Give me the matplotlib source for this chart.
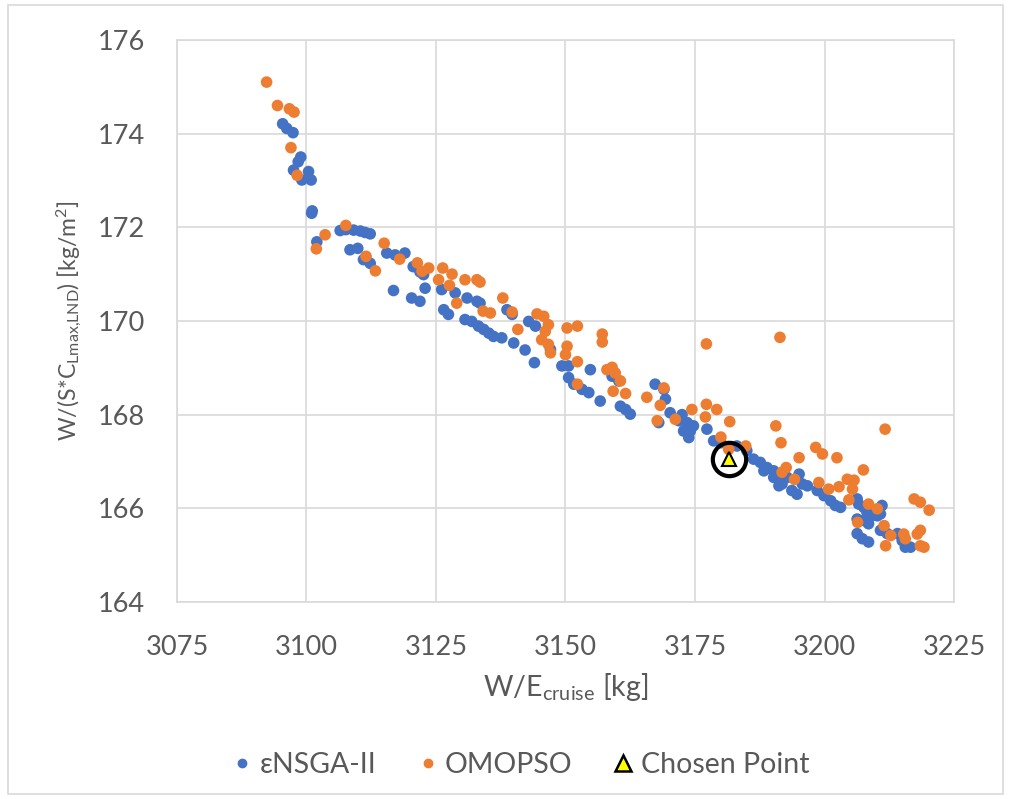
import matplotlib
matplotlib.use("Agg")
import matplotlib.pyplot as plt
from matplotlib.lines import Line2D
from matplotlib.patches import Rectangle

plt.rcParams["font.family"] = ["Lato", "DejaVu Sans"]
plt.rcParams["mathtext.default"] = "regular"

# εNSGA-II front
nsga_x = [3095.4, 3096.2, 3097.4, 3098.9, 3098.4, 3097.5, 3099.1, 3100.4, 3100.9, 3101.0,
          3101.1, 3102.0, 3106.5, 3107.6, 3109.1, 3110.4, 3111.3, 3112.3, 3108.4, 3109.9,
          3111.0, 3112.3, 3115.5, 3117.1, 3119.0, 3116.8, 3120.3, 3121.9, 3120.6, 3121.9,
          3122.6, 3122.9, 3126.1, 3128.7, 3126.5, 3127.4, 3131.0, 3132.9, 3133.5, 3130.6,
          3131.9, 3133.2, 3134.2, 3135.2, 3136.1, 3137.7, 3140.0, 3142.2, 3142.9, 3144.2,
          3138.7, 3139.7, 3144.0, 3147.1, 3149.3, 3150.6, 3154.8, 3150.6, 3151.6, 3153.2,
          3154.5, 3156.7, 3159.0, 3160.3, 3160.6, 3161.6, 3162.5, 3167.3, 3169.0, 3169.3,
          3170.2, 3171.9, 3168.0, 3172.5, 3173.5, 3174.1, 3172.8, 3174.7, 3177.3, 3173.8,
          3178.6, 3180.0, 3183.1, 3185.0, 3186.3, 3187.6, 3188.9, 3190.2, 3191.5, 3192.8,
          3188.3, 3190.2, 3191.8, 3193.7, 3194.7, 3191.2, 3195.7, 3196.7, 3195.1, 3198.6,
          3199.9, 3201.2, 3202.1, 3203.1, 3206.3, 3206.6, 3207.6, 3208.2, 3209.2, 3210.2,
          3211.1, 3210.8, 3206.3, 3207.6, 3208.5, 3206.3, 3207.3, 3208.5, 3210.8, 3212.1,
          3214.1, 3215.0, 3215.6, 3216.6]
nsga_y = [174.21, 174.11, 174.02, 173.50, 173.40, 173.22, 173.01, 173.19, 173.01, 172.30,
          172.35, 171.69, 171.93, 171.95, 171.94, 171.92, 171.89, 171.86, 171.52, 171.55,
          171.31, 171.23, 171.45, 171.41, 171.45, 170.65, 170.49, 170.42, 171.16, 171.05,
          170.99, 170.70, 170.67, 170.60, 170.24, 170.14, 170.49, 170.42, 170.38, 170.03,
          169.99, 169.89, 169.82, 169.74, 169.67, 169.64, 169.53, 169.38, 169.99, 169.89,
          170.24, 170.14, 169.11, 169.39, 169.04, 169.04, 168.96, 168.79, 168.65, 168.54,
          168.47, 168.29, 168.82, 168.72, 168.18, 168.11, 168.01, 168.65, 168.54, 168.33,
          168.04, 167.87, 167.83, 168.00, 167.83, 167.65, 167.65, 167.76, 167.69, 167.51,
          167.44, 167.40, 167.33, 167.23, 167.05, 166.98, 166.87, 166.80, 166.73, 166.66,
          166.80, 166.66, 166.52, 166.38, 166.30, 166.48, 166.52, 166.48, 166.73, 166.38,
          166.27, 166.16, 166.06, 166.02, 166.20, 166.09, 166.02, 165.91, 165.84, 165.84,
          166.06, 165.88, 165.77, 165.74, 165.67, 165.46, 165.35, 165.28, 165.53, 165.46,
          165.46, 165.31, 165.17, 165.17]

# OMOPSO front
omopso_x = [3092.3, 3094.4, 3096.7, 3097.6, 3097.0, 3098.2, 3107.6, 3103.6, 3101.9, 3115.0,
            3111.5, 3118.0, 3121.4, 3113.3, 3122.3, 3123.6, 3126.3, 3128.1, 3125.5, 3127.6,
            3130.6, 3132.9, 3133.5, 3129.0, 3137.9, 3139.7, 3134.1, 3135.5, 3140.8, 3144.5,
            3145.8, 3146.7, 3146.1, 3145.4, 3146.7, 3147.1, 3150.3, 3152.3, 3150.3, 3150.0,
            3152.3, 3157.1, 3157.1, 3158.0, 3159.0, 3159.6, 3160.6, 3159.2, 3161.6, 3152.3,
            3165.7, 3168.3, 3169.0, 3167.7, 3171.2, 3177.2, 3191.4, 3174.4, 3177.2, 3179.2,
            3177.0, 3181.7, 3180.0, 3184.8, 3190.6, 3191.6, 3181.5, 3192.6, 3194.2, 3195.1,
            3198.3, 3199.6, 3202.4, 3211.7, 3207.5, 3191.8, 3198.9, 3200.8, 3202.8, 3204.4,
            3205.7, 3205.4, 3204.7, 3208.5, 3210.2, 3217.3, 3218.5, 3220.2, 3206.4, 3211.5,
            3212.8, 3211.8, 3215.3, 3217.9, 3218.5, 3218.5, 3219.2, 3215.6]
omopso_y = [175.10, 174.60, 174.53, 174.46, 173.70, 173.11, 172.04, 171.84, 171.54, 171.66,
            171.38, 171.32, 171.24, 171.07, 171.06, 171.13, 171.13, 171.00, 170.88, 170.76,
            170.88, 170.88, 170.83, 170.38, 170.49, 170.19, 170.21, 170.17, 169.82, 170.15,
            170.10, 169.92, 169.78, 169.60, 169.50, 169.32, 169.85, 169.89, 169.46, 169.28,
            169.13, 169.72, 169.55, 168.96, 169.01, 168.89, 168.72, 168.50, 168.45, 168.65,
            168.37, 168.20, 168.57, 167.87, 167.90, 169.51, 169.65, 168.11, 168.22, 168.11,
            167.95, 167.85, 167.52, 167.33, 167.76, 167.40, 167.26, 166.87, 166.62, 167.08,
            167.30, 167.16, 167.08, 167.69, 166.82, 166.77, 166.55, 166.41, 166.46, 166.62,
            166.60, 166.41, 166.18, 166.09, 165.99, 166.20, 166.13, 165.96, 165.70, 165.63,
            165.42, 165.20, 165.45, 165.45, 165.53, 165.20, 165.17, 165.35]

chosen_x = 3181.6
chosen_y = 167.06

x_ticks = [3075, 3100, 3125, 3150, 3175, 3200, 3225]
y_ticks = [164, 166, 168, 170, 172, 174, 176]

BLUE = "#4472C4"
ORANGE = "#ED7D31"
GREY_TXT = "#595959"
GRID = "#D9D9D9"

fig = plt.figure(figsize=(10.09, 7.99), dpi=100)
ax = fig.add_axes([0.1754, 0.2466, 0.7701, 0.7034])

# outer chart border
fig.patches.append(Rectangle((0.008, 0.006), 0.986, 0.988, transform=fig.transFigure,
                             fill=False, edgecolor=GRID, linewidth=1.2))

ax.scatter(nsga_x, nsga_y, s=70, color=BLUE, edgecolors="none", zorder=3)
ax.scatter(omopso_x, omopso_y, s=70, color=ORANGE, edgecolors="none", zorder=4)
ax.plot(chosen_x, chosen_y, marker="^", markersize=10, markerfacecolor="#FFFF00",
        markeredgecolor="black", markeredgewidth=1.5, linestyle="none", zorder=6)
ax.plot(chosen_x, chosen_y, marker="o", markersize=24, markerfacecolor="none",
        markeredgecolor="black", markeredgewidth=3, linestyle="none", zorder=5)

ax.set_xlim(3075, 3225)
ax.set_ylim(164, 176)
ax.set_xticks(x_ticks)
ax.set_yticks(y_ticks)
ax.grid(True, color=GRID, linewidth=1.2)
ax.set_axisbelow(True)
for sp in ax.spines.values():
    sp.set_color(GRID)
    sp.set_linewidth(1.2)
ax.tick_params(length=0, labelsize=19.5, labelcolor=GREY_TXT)
ax.tick_params(axis="y", pad=23)
ax.tick_params(axis="x", pad=24)

ax.set_xlabel(r"W/E$_{cruise}$ [kg]", fontsize=20.5, color=GREY_TXT, labelpad=8)
ax.set_ylabel(r"W/(S*C$_{Lmax{,}LND}$) [kg/m$^{2}$]", fontsize=16.5, color=GREY_TXT,
              labelpad=10)

handles = [
    Line2D([], [], marker="o", linestyle="none", markersize=6, color=BLUE),
    Line2D([], [], marker="o", linestyle="none", markersize=6, color=ORANGE),
    Line2D([], [], marker="^", linestyle="none", markersize=11, markerfacecolor="#FFFF00",
           markeredgecolor="black", markeredgewidth=1.8),
]
fig.legend(handles, ["εNSGA-II", "OMOPSO", "Chosen Point"], loc="center",
           bbox_to_anchor=(0.514, 0.043), ncol=3, frameon=False, fontsize=20.5,
           labelcolor=GREY_TXT, handletextpad=0.1, columnspacing=1.3, handlelength=1.0)

fig.savefig("out.png", dpi=100)
